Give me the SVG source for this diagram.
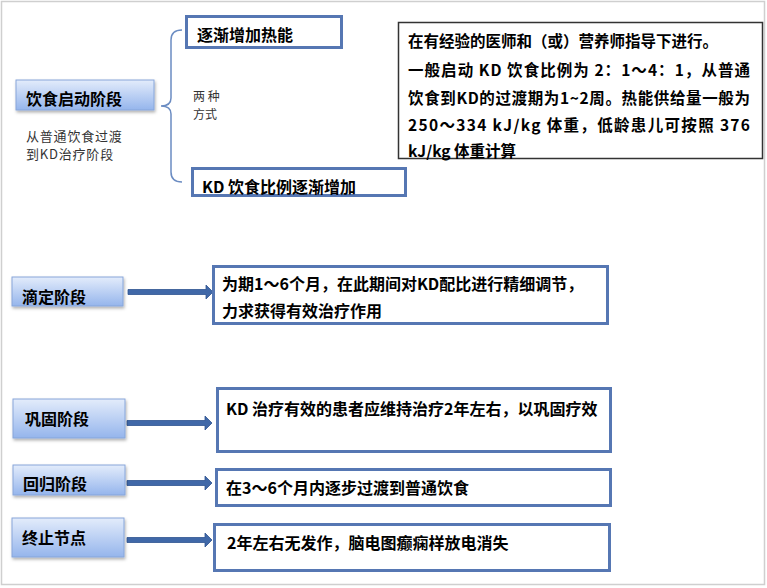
<svg xmlns="http://www.w3.org/2000/svg" width="767" height="588" viewBox="0 0 767 588">
<defs>
<linearGradient id="stageGrad" x1="0" y1="0" x2="0" y2="1">
<stop offset="0" stop-color="#e3ecfb"/>
<stop offset="1" stop-color="#95b5ec"/>
</linearGradient>
<filter id="shadow" x="-10%" y="-20%" width="130%" height="160%">
<feDropShadow dx="1" dy="2" stdDeviation="1.5" flood-color="#000" flood-opacity="0.3"/>
</filter>
</defs>
<style>
.stage{fill:url(#stageGrad);stroke:#87a6da;stroke-width:1;filter:url(#shadow)}
.blue{fill:#fff;stroke:#5677b3;stroke-width:3}
.note{fill:#fff;stroke:#333;stroke-width:1.5}
.t{font-family:"Noto Sans CJK SC","Microsoft YaHei",sans-serif;fill:#000}
.b16{font-size:16px;font-weight:bold}
.b15{font-size:15.5px;font-weight:bold}
.s13{font-size:13px;fill:#333}
.s12{font-size:12px;fill:#333}
.arrow{fill:#4068a8;stroke:#2f5390;stroke-width:0.8}
.brace{fill:none;stroke:#6b8cc2;stroke-width:1.5}
</style>
<rect x="1.5" y="1.5" width="763" height="583" fill="#fff" stroke="#cfcfcf" stroke-width="1.5"/>

<g id="connectors">
<path class="brace" d="M182,30 Q171,30 171,40 V98 Q171,106 161,106 Q171,106 171,114 V172 Q171,182 182,182"/>
<path class="arrow" d="M128,289.5 H206 V285 L213,292 L206,299 V294.5 H128 Z"/>
<path class="arrow" d="M127,420.5 H205 V416 L212,423 L205,430 V425.5 H127 Z"/>
<path class="arrow" d="M127,480.5 H205 V476 L212,483 L205,490 V485.5 H127 Z"/>
<path class="arrow" d="M127,537.5 H205 V533 L212,540 L205,547 V542.5 H127 Z"/>
</g>

<g id="stage-start">
<rect class="stage" x="16" y="80" width="138" height="30"/>
<text class="t b16" x="26" y="105">饮食启动阶段</text>
</g>
<g id="start-desc">
<text class="t s13" x="26" y="141" letter-spacing="0.8">从普通饮食过渡</text>
<text class="t s13" x="26" y="159" letter-spacing="0.8">到KD治疗阶段</text>
</g>
<g id="two-ways">
<text class="t s12" x="193" y="101">两 种</text>
<text class="t s12" x="193" y="119">方式</text>
</g>
<g id="way-energy">
<rect class="blue" x="186.5" y="16.5" width="155" height="31"/>
<text class="t b16" x="197" y="41">逐渐增加热能</text>
</g>
<g id="way-ratio">
<rect class="blue" x="192.5" y="168.5" width="213" height="27"/>
<text class="t b16" x="202" y="193">KD 饮食比例逐渐增加</text>
</g>
<g id="note">
<rect class="note" x="398.5" y="22.5" width="364" height="136"/>
<text class="t b15" x="408" y="47">在有经验的医师和（或）营养师指导下进行。</text>
<text class="t b15" x="408" y="76" textLength="342" lengthAdjust="spacing">一般启动 KD 饮食比例为 2：1～4：1，从普通</text>
<text class="t b15" x="408" y="104" textLength="342" lengthAdjust="spacing">饮食到KD的过渡期为1~2周。热能供给量一般为</text>
<text class="t b15" x="408" y="131" textLength="342" lengthAdjust="spacing">250～334 kJ/kg 体重，低龄患儿可按照 376</text>
<text class="t b15" x="408" y="157">kJ/kg 体重计算</text>
</g>

<g id="stage-titration">
<rect class="stage" x="12" y="277" width="111" height="29"/>
<text class="t b16" x="22" y="303">滴定阶段</text>
</g>
<g id="desc-titration">
<rect class="blue" x="213.5" y="266.5" width="394" height="57"/>
<text class="t b16" x="222" y="290">为期1～6个月，在此期间对KD配比进行精细调节，</text>
<text class="t b16" x="222" y="317">力求获得有效治疗作用</text>
</g>

<g id="stage-consolidation">
<rect class="stage" x="13" y="399" width="112" height="39"/>
<text class="t b16" x="25" y="425">巩固阶段</text>
</g>
<g id="desc-consolidation">
<rect class="blue" x="217.5" y="388.5" width="393" height="63"/>
<text class="t b16" x="226" y="415">KD 治疗有效的患者应维持治疗2年左右，以巩固疗效</text>
</g>

<g id="stage-return">
<rect class="stage" x="13" y="465" width="112" height="30"/>
<text class="t b16" x="23" y="490">回归阶段</text>
</g>
<g id="desc-return">
<rect class="blue" x="216.5" y="469.5" width="394" height="36"/>
<text class="t b16" x="226" y="494">在3～6个月内逐步过渡到普通饮食</text>
</g>

<g id="stage-end">
<rect class="stage" x="12" y="518" width="112" height="39"/>
<text class="t b16" x="22" y="544">终止节点</text>
</g>
<g id="desc-end">
<rect class="blue" x="214.5" y="524.5" width="395" height="46"/>
<text class="t b16" x="227" y="549">2年左右无发作，脑电图癫痫样放电消失</text>
</g>
</svg>
